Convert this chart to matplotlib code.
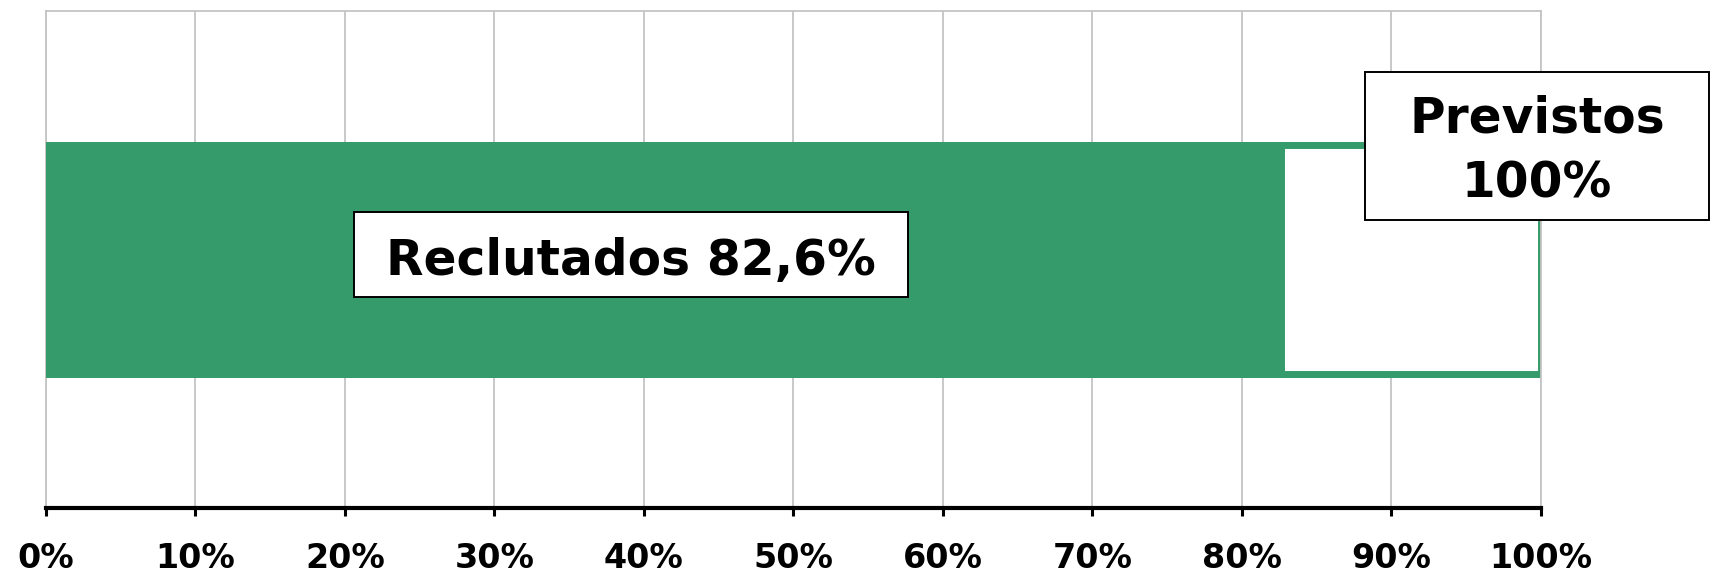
import matplotlib
matplotlib.use("Agg")
import matplotlib.pyplot as plt
from matplotlib.patches import Rectangle

# Data
categories = ["Reclutamiento"]
previstos = [100.0]
reclutados = [82.6]
tick_values = [0, 10, 20, 30, 40, 50, 60, 70, 80, 90, 100]
tick_labels = [f"{v}%" for v in tick_values]
label_reclutados = "Reclutados 82,6%"
label_previstos_1 = "Previstos"
label_previstos_2 = "100%"

GREEN = "#359b6a"
GRID = "#c4c4c4"

plt.rcParams['font.family'] = ['DejaVu Sans']

fig = plt.figure(figsize=(17.11, 5.73), dpi=100)
ax = fig.add_axes([0.0268, 0.1126, 0.9005 - 0.0268, 0.9808 - 0.1126])

bar_h = 0.4595
ax.barh(categories, previstos, height=bar_h,
        color="white", edgecolor=GREEN, linewidth=5, zorder=2)
ax.barh(categories, reclutados, height=bar_h, color=GREEN, edgecolor=GREEN,
        linewidth=5, zorder=3)

ax.set_xlim(0, 100)
ax.set_ylim(-0.5, 0.5)
ax.set_xticks(tick_values)
ax.set_xticklabels(tick_labels, fontsize=24, fontweight="bold")
ax.set_yticks([])
ax.xaxis.grid(True, color=GRID, linewidth=1.3, zorder=0)
ax.set_axisbelow(True)
ax.tick_params(axis="x", direction="out", length=6, width=2.2, pad=18, color="black")

for side in ("top", "left", "right"):
    ax.spines[side].set_color(GRID)
    ax.spines[side].set_linewidth(1.3)
ax.spines["bottom"].set_color("black")
ax.spines["bottom"].set_linewidth(3)

# Label boxes
trans = ax.get_xaxis_transform()
ax.add_patch(Rectangle((20.58, 0.4255), 57.67 - 20.58, 0.5966 - 0.4255,
                       transform=trans, facecolor="white", edgecolor="black",
                       linewidth=1.4, zorder=5, clip_on=False))
ax.text((20.58 + 57.67) / 2, 0.4693, label_reclutados, transform=trans,
        ha="center", va="baseline", fontsize=35, fontweight="bold", zorder=6)

ax.add_patch(Rectangle((88.24, 0.5799), 111.25 - 88.24, 0.8774 - 0.5799,
                       transform=trans, facecolor="white", edgecolor="black",
                       linewidth=1.4, zorder=5, clip_on=False))
xc = (88.24 + 111.25) / 2
ax.text(xc, 0.7548, label_previstos_1, transform=trans,
        ha="center", va="baseline", fontsize=35, fontweight="bold",
        zorder=6, clip_on=False)
ax.text(xc, 0.6261, label_previstos_2, transform=trans,
        ha="center", va="baseline", fontsize=35, fontweight="bold",
        zorder=6, clip_on=False)

fig.savefig("out.png", dpi=100, facecolor="white")
